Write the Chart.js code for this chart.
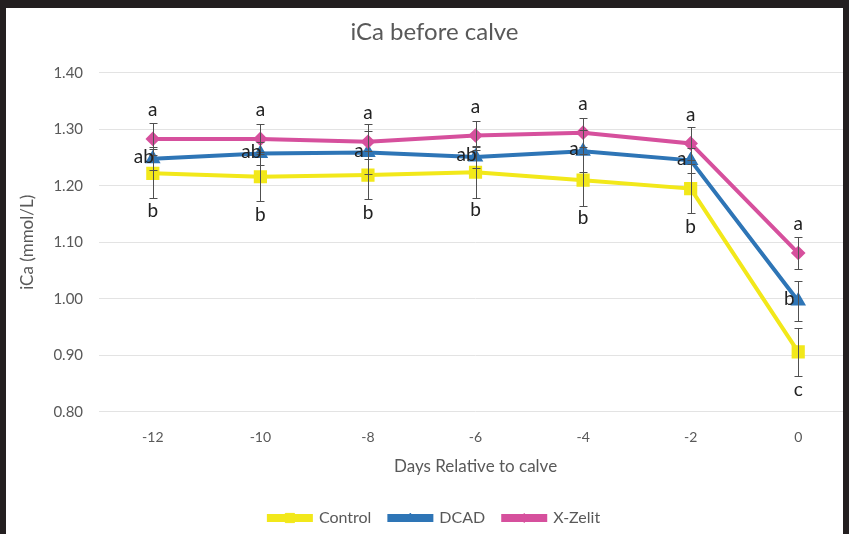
<!DOCTYPE html>
<html>
<head>
<meta charset="utf-8">
<script src="https://cdn.jsdelivr.net/npm/chart.js@4/dist/chart.umd.min.js"></script>
<style>
  html, body { margin: 0; padding: 0; background: #231f20; width: 849px; height: 534px; overflow: hidden; }
  #frame { position: absolute; left: 6px; top: 8px; width: 837px; height: 526px; overflow: hidden; background: #fff; }
  #wrap { position: absolute; left: -6px; top: -8px; width: 870px; height: 534px; }
</style>
</head>
<body>
<div id="frame"><div id="wrap"><canvas id="chart"></canvas></div></div>
<script>
const days = ["-12", "-10", "-8", "-6", "-4", "-2", "0"];

const control = [1.222, 1.216, 1.219, 1.224, 1.210, 1.195, 0.906];
const dcad    = [1.248, 1.257, 1.259, 1.251, 1.261, 1.245, 0.996];
const xzelit  = [1.283, 1.283, 1.278, 1.289, 1.294, 1.275, 1.081];

const controlErr = [0.044, 0.043, 0.043, 0.045, 0.046, 0.044, 0.042];
const dcadErr    = [0.020, 0.020, 0.038, 0.020, 0.037, 0.022, 0.035];
const xzelitErr  = [0.029, 0.026, 0.031, 0.025, 0.026, 0.029, 0.029];

const controlLetters = ["b", "b", "b", "b", "b", "b", "c"];
const dcadLetters    = ["ab", "ab", "a", "ab", "a", "a", "b"];
const xzelitLetters  = ["a", "a", "a", "a", "a", "a", "a"];

const errs = [controlErr, dcadErr, xzelitErr];
const letters = [controlLetters, dcadLetters, xzelitLetters];

const FONT = "Lato, 'Open Sans', sans-serif";
const GREY = "#595959";

// error bars + significance letters
const extras = {
  id: "extras",
  afterDatasetsDraw(chart) {
    const ctx = chart.ctx;
    const y = chart.scales.y;
    ctx.save();
    ctx.strokeStyle = "#505050";
    ctx.lineWidth = 1;
    errs.forEach((err, i) => {
      const meta = chart.getDatasetMeta(i);
      const vals = chart.data.datasets[i].data;
      meta.data.forEach((pt, j) => {
        const top = Math.round(y.getPixelForValue(vals[j] + err[j])) + 0.5;
        const bot = Math.round(y.getPixelForValue(vals[j] - err[j])) + 0.5;
        const x = Math.round(pt.x) + 0.5;
        ctx.beginPath();
        ctx.moveTo(x, top); ctx.lineTo(x, bot);
        ctx.moveTo(x - 4, top); ctx.lineTo(x + 4, top);
        ctx.moveTo(x - 4, bot); ctx.lineTo(x + 4, bot);
        ctx.stroke();
      });
    });
    ctx.fillStyle = "#222";
    ctx.font = "19px " + FONT;
    ctx.textAlign = "center";
    ctx.textBaseline = "middle";
    letters.forEach((lab, i) => {
      const meta = chart.getDatasetMeta(i);
      meta.data.forEach((pt, j) => {
        let dx = 0, dy = 0;
        if (i === 0) dy = 38;
        if (i === 1) { dx = -9; dy = -2; }
        if (i === 2) dy = -29;
        ctx.fillText(lab[j], pt.x + dx, pt.y + dy);
      });
    });
    ctx.restore();
  },
  afterDraw(chart) {
    // markers on top of legend lines
    const lg = chart.legend;
    if (!lg || !lg.legendHitBoxes) return;
    const ctx = chart.ctx;
    lg.legendHitBoxes.forEach((hb, k) => {
      const ds = chart.data.datasets[lg.legendItems[k].datasetIndex];
      const cx = hb.left + lg.options.labels.boxWidth / 2;
      const cy = hb.top + hb.height / 2;
      ctx.save();
      ctx.fillStyle = ds.borderColor;
      ctx.strokeStyle = ds.borderColor;
      Chart.helpers.drawPoint(ctx, { pointStyle: ds.pointStyle, radius: ds.pointRadius, rotation: 0, borderWidth: 1 }, cx, cy);
      ctx.restore();
    });
  }
};

new Chart(document.getElementById("chart"), {
  type: "line",
  data: {
    labels: days,
    datasets: [
      { label: "Control", data: control, borderColor: "#f2e81a", backgroundColor: "#f2e81a",
        borderWidth: 4, pointStyle: "rect", pointRadius: 6.5, order: 3 },
      { label: "DCAD", data: dcad, borderColor: "#2e75b6", backgroundColor: "#2e75b6",
        borderWidth: 4, pointStyle: "triangle", pointRadius: 5, order: 2 },
      { label: "X-Zelit", data: xzelit, borderColor: "#d6509d", backgroundColor: "#d6509d",
        borderWidth: 4, pointStyle: "rectRot", pointRadius: 4.5, order: 1 }
    ]
  },
  options: {
    responsive: true,
    maintainAspectRatio: false,
    animation: false,
    layout: { padding: { left: 17, right: 18, top: 0, bottom: -2 } },
    plugins: {
      title: {
        display: true, text: "iCa before calve", color: GREY,
        font: { family: FONT, size: 24, weight: "normal" },
        padding: { top: 18, bottom: 26 }
      },
      legend: {
        position: "bottom",
        labels: {
          color: GREY, boxWidth: 42, boxHeight: 4, padding: 18,
          font: { family: FONT, size: 16 },
          sort: (a, b) => a.datasetIndex - b.datasetIndex
        }
      },
      tooltip: { enabled: false }
    },
    scales: {
      x: {
        offset: true,
        grid: { display: false },
        border: { display: false },
        ticks: { color: GREY, font: { family: FONT, size: 14 }, padding: 9 },
        title: { display: true, text: "Days Relative to calve", color: GREY,
          font: { family: FONT, size: 17 }, padding: { top: 2, bottom: 15 } }
      },
      y: {
        min: 0.8, max: 1.4,
        ticks: { stepSize: 0.1, color: GREY, font: { family: FONT, size: 15 }, padding: 16,
          callback: v => v.toFixed(2) },
        grid: { color: "#e3e3e3", drawTicks: false },
        border: { display: false },
        title: { display: true, text: "iCa (mmol/L)", color: GREY,
          font: { family: FONT, size: 17 }, padding: { top: 0, bottom: 0 } }
      }
    }
  },
  plugins: [extras]
});
</script>
</body>
</html>
